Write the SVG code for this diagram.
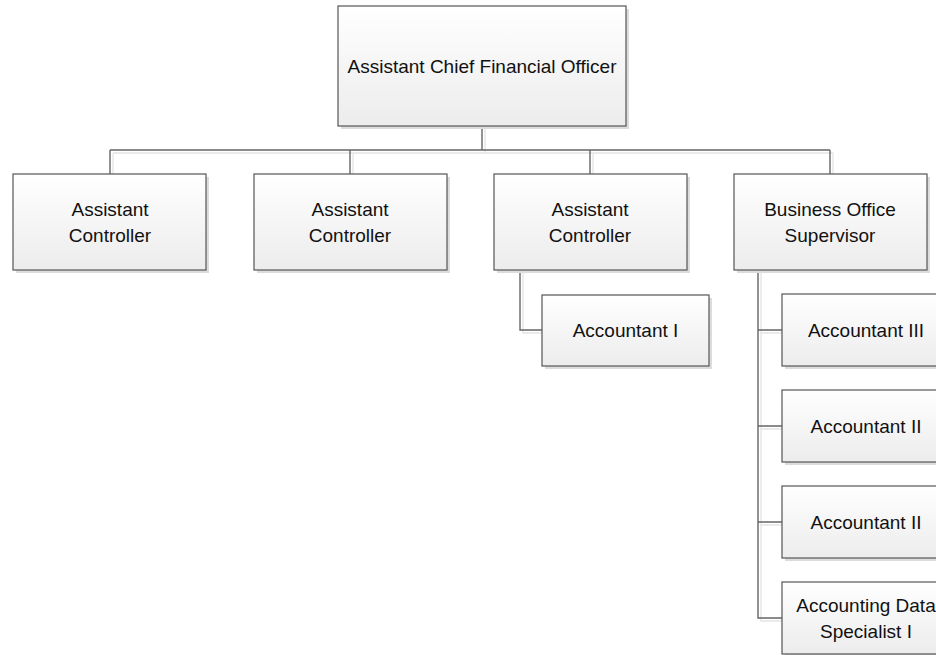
<svg xmlns="http://www.w3.org/2000/svg" width="936" height="655" viewBox="0 0 936 655">
<defs>
<linearGradient id="g" x1="0" y1="0" x2="0" y2="1">
<stop offset="0" stop-color="#ffffff"/>
<stop offset="1" stop-color="#ececec"/>
</linearGradient>
<style>
.sh{fill:#dcdcdc;}
.bx{fill:url(#g);stroke:#555555;stroke-width:1.2;}
.t{font-family:"Liberation Sans",Arial,sans-serif;font-size:19px;fill:#111111;text-anchor:middle;}
.c{fill:none;stroke:#666666;stroke-width:1.4;}
.cs{fill:none;stroke:#e4e4e4;stroke-width:1.3;}
</style>
</defs>
<rect width="936" height="655" fill="#ffffff"/>
<g id="connectors">
<path class="cs" d="M485 128V153M113 153H833M113 153V176M353 153V176M593 153V176M833 153V176M523 272V333H544M761 272V621H784M761 333H784M761 429H784M761 525H784"/>
<path class="c" d="M482 126V150M110 150H830M110 150V174M350 150V174M590 150V174M830 150V174M520 270V330H542M758 270V618H782M758 330H782M758 426H782M758 522H782"/>
</g>
<g id="n0"><rect class="sh" x="341" y="9" width="288" height="120"/><rect class="bx" x="338" y="6" width="288" height="120"/><text class="t" x="482" y="73">Assistant Chief Financial Officer</text></g>
<g id="n1"><rect class="sh" x="16" y="177" width="193" height="96"/><rect class="bx" x="13" y="174" width="193" height="96"/><text class="t" x="110" y="216">Assistant</text><text class="t" x="110" y="242">Controller</text></g>
<g id="n2"><rect class="sh" x="257" y="177" width="193" height="96"/><rect class="bx" x="254" y="174" width="193" height="96"/><text class="t" x="350" y="216">Assistant</text><text class="t" x="350" y="242">Controller</text></g>
<g id="n3"><rect class="sh" x="497" y="177" width="193" height="96"/><rect class="bx" x="494" y="174" width="193" height="96"/><text class="t" x="590" y="216">Assistant</text><text class="t" x="590" y="242">Controller</text></g>
<g id="n4"><rect class="sh" x="737" y="177" width="193" height="96"/><rect class="bx" x="734" y="174" width="193" height="96"/><text class="t" x="830" y="216">Business Office</text><text class="t" x="830" y="242">Supervisor</text></g>
<g id="n5"><rect class="sh" x="545" y="298" width="167" height="71"/><rect class="bx" x="542" y="295" width="167" height="71"/><text class="t" x="625.5" y="337">Accountant I</text></g>
<g id="n6"><rect class="sh" x="785" y="297" width="168" height="72"/><rect class="bx" x="782" y="294" width="168" height="72"/><text class="t" x="866" y="337">Accountant III</text></g>
<g id="n7"><rect class="sh" x="785" y="393" width="168" height="72"/><rect class="bx" x="782" y="390" width="168" height="72"/><text class="t" x="866" y="433">Accountant II</text></g>
<g id="n8"><rect class="sh" x="785" y="489" width="168" height="72"/><rect class="bx" x="782" y="486" width="168" height="72"/><text class="t" x="866" y="529">Accountant II</text></g>
<g id="n9"><rect class="sh" x="785" y="585" width="168" height="72"/><rect class="bx" x="782" y="582" width="168" height="72"/><text class="t" x="866" y="612">Accounting Data</text><text class="t" x="866" y="638">Specialist I</text></g>
</svg>
